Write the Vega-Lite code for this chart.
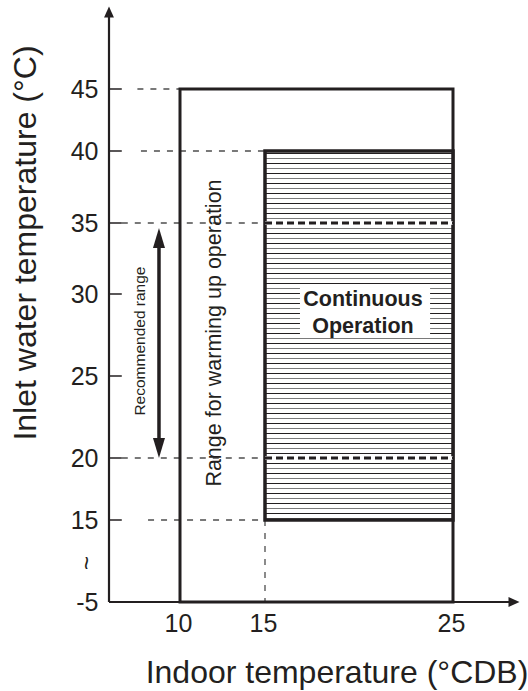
{
  "$schema": "https://vega.github.io/schema/vega-lite/v6.json",
  "width": 411,
  "height": 590,
  "autosize": {"type": "none"},
  "padding": {"left": 109, "top": 12, "right": 8, "bottom": 89},
  "background": "white",
  "config": {"view": {"stroke": null}, "font": "Liberation Sans"},
  "encoding": {
    "x": {
      "field": "x", "type": "quantitative",
      "scale": {"domain": [0, 10, 15, 25, 30], "range": [0, 71, 156, 344, 405], "zero": false, "nice": false},
      "axis": {
        "values": [10, 15, 25], "domain": false, "ticks": false, "tickSize": 0, "grid": false,
        "labelFontSize": 25, "labelPadding": 9, "labelOffset": -2, "labelColor": "#231f20", "labelFont": "Liberation Sans",
        "labelOverlap": false, "labelFlush": false,
        "title": "Indoor temperature (°CDB)", "titleFontSize": 32, "titleFontWeight": "normal",
        "titleColor": "#231f20", "titleFont": "Liberation Sans",
        "titleX": 227.5, "titleY": 80, "titleAlign": "center", "titleBaseline": "alphabetic", "titleAngle": 0
      }
    },
    "y": {
      "field": "y", "type": "quantitative",
      "scale": {"domain": [-5, 15, 20, 25, 30, 35, 40, 45, 60], "range": [590, 508, 446, 364, 282, 211, 139, 77, 0], "zero": false, "nice": false},
      "axis": {
        "values": [-5, 15, 20, 25, 30, 35, 40, 45], "domain": false, "ticks": false, "tickSize": 0, "grid": false,
        "labelExpr": "datum.value == -5 ? '-5' : datum.label",
        "labelFontSize": 25, "labelPadding": 11, "labelColor": "#231f20", "labelFont": "Liberation Sans",
        "labelOverlap": false, "labelFlush": false, "labelBaseline": "middle",
        "title": "Inlet water temperature (°C)", "titleFontSize": 32, "titleFontWeight": "normal",
        "titleColor": "#231f20", "titleFont": "Liberation Sans",
        "titleX": -74, "titleY": 230.5, "titleAlign": "center", "titleBaseline": "alphabetic", "titleAngle": 270
      }
    }
  },
  "layer": [
    {
      "data": {"values": [
        {"x": 4, "x2": 10, "y": 45, "y2": 45},
        {"x": 4.5, "x2": 15, "y": 40, "y2": 40},
        {"x": 1.8, "x2": 15, "y": 35, "y2": 35},
        {"x": 1.8, "x2": 15, "y": 20, "y2": 20},
        {"x": 5.5, "x2": 15, "y": 15, "y2": 15},
        {"x": 15, "x2": 15, "y": 15, "y2": -5}
      ]},
      "mark": {"type": "rule", "color": "#4d4d4d", "strokeWidth": 1.3, "strokeDash": [6, 7]},
      "encoding": {"x2": {"field": "x2"}, "y2": {"field": "y2"}}
    },
    {
      "data": {"values": [{"x": 10, "x2": 25, "y": -5, "y2": 45}]},
      "mark": {"type": "rect", "fill": "transparent", "stroke": "#231f20", "strokeWidth": 3},
      "encoding": {"x2": {"field": "x2"}, "y2": {"field": "y2"}}
    },
    {
      "data": {"values": [{"x": 15, "x2": 25, "y": 15, "y2": 40}]},
      "mark": {
        "type": "rect", "stroke": "#231f20", "strokeWidth": 3.5,
        "fill": {
          "gradient": "linear", "x1": 0, "y1": 0, "x2": 0, "y2": 1,
          "stops": [
            {"offset": 0.00542, "color": "#fff"}, {"offset": 0.00542, "color": "#231f20"}, {"offset": 0.00813, "color": "#231f20"}, {"offset": 0.00813, "color": "#fff"},
            {"offset": 0.01897, "color": "#fff"}, {"offset": 0.01897, "color": "#7a7a7a"}, {"offset": 0.02168, "color": "#7a7a7a"}, {"offset": 0.02168, "color": "#fff"},
            {"offset": 0.03252, "color": "#fff"}, {"offset": 0.03252, "color": "#231f20"}, {"offset": 0.03523, "color": "#231f20"}, {"offset": 0.03523, "color": "#fff"},
            {"offset": 0.04607, "color": "#fff"}, {"offset": 0.04607, "color": "#7a7a7a"}, {"offset": 0.04878, "color": "#7a7a7a"}, {"offset": 0.04878, "color": "#fff"},
            {"offset": 0.05962, "color": "#fff"}, {"offset": 0.05962, "color": "#231f20"}, {"offset": 0.06233, "color": "#231f20"}, {"offset": 0.06233, "color": "#fff"},
            {"offset": 0.07317, "color": "#fff"}, {"offset": 0.07317, "color": "#7a7a7a"}, {"offset": 0.07588, "color": "#7a7a7a"}, {"offset": 0.07588, "color": "#fff"},
            {"offset": 0.08672, "color": "#fff"}, {"offset": 0.08672, "color": "#231f20"}, {"offset": 0.08943, "color": "#231f20"}, {"offset": 0.08943, "color": "#fff"},
            {"offset": 0.10027, "color": "#fff"}, {"offset": 0.10027, "color": "#7a7a7a"}, {"offset": 0.10298, "color": "#7a7a7a"}, {"offset": 0.10298, "color": "#fff"},
            {"offset": 0.11382, "color": "#fff"}, {"offset": 0.11382, "color": "#231f20"}, {"offset": 0.11653, "color": "#231f20"}, {"offset": 0.11653, "color": "#fff"},
            {"offset": 0.12737, "color": "#fff"}, {"offset": 0.12737, "color": "#7a7a7a"}, {"offset": 0.13008, "color": "#7a7a7a"}, {"offset": 0.13008, "color": "#fff"},
            {"offset": 0.14092, "color": "#fff"}, {"offset": 0.14092, "color": "#231f20"}, {"offset": 0.14363, "color": "#231f20"}, {"offset": 0.14363, "color": "#fff"},
            {"offset": 0.15447, "color": "#fff"}, {"offset": 0.15447, "color": "#7a7a7a"}, {"offset": 0.15718, "color": "#7a7a7a"}, {"offset": 0.15718, "color": "#fff"},
            {"offset": 0.16802, "color": "#fff"}, {"offset": 0.16802, "color": "#231f20"}, {"offset": 0.17073, "color": "#231f20"}, {"offset": 0.17073, "color": "#fff"},
            {"offset": 0.18157, "color": "#fff"}, {"offset": 0.18157, "color": "#7a7a7a"}, {"offset": 0.18428, "color": "#7a7a7a"}, {"offset": 0.18428, "color": "#fff"},
            {"offset": 0.19512, "color": "#fff"}, {"offset": 0.19512, "color": "#231f20"}, {"offset": 0.19783, "color": "#231f20"}, {"offset": 0.19783, "color": "#fff"},
            {"offset": 0.20867, "color": "#fff"}, {"offset": 0.20867, "color": "#7a7a7a"}, {"offset": 0.21138, "color": "#7a7a7a"}, {"offset": 0.21138, "color": "#fff"},
            {"offset": 0.22222, "color": "#fff"}, {"offset": 0.22222, "color": "#231f20"}, {"offset": 0.22493, "color": "#231f20"}, {"offset": 0.22493, "color": "#fff"},
            {"offset": 0.23577, "color": "#fff"}, {"offset": 0.23577, "color": "#7a7a7a"}, {"offset": 0.23848, "color": "#7a7a7a"}, {"offset": 0.23848, "color": "#fff"},
            {"offset": 0.24932, "color": "#fff"}, {"offset": 0.24932, "color": "#231f20"}, {"offset": 0.25203, "color": "#231f20"}, {"offset": 0.25203, "color": "#fff"},
            {"offset": 0.26287, "color": "#fff"}, {"offset": 0.26287, "color": "#7a7a7a"}, {"offset": 0.26558, "color": "#7a7a7a"}, {"offset": 0.26558, "color": "#fff"},
            {"offset": 0.27642, "color": "#fff"}, {"offset": 0.27642, "color": "#231f20"}, {"offset": 0.27913, "color": "#231f20"}, {"offset": 0.27913, "color": "#fff"},
            {"offset": 0.28997, "color": "#fff"}, {"offset": 0.28997, "color": "#7a7a7a"}, {"offset": 0.29268, "color": "#7a7a7a"}, {"offset": 0.29268, "color": "#fff"},
            {"offset": 0.30352, "color": "#fff"}, {"offset": 0.30352, "color": "#231f20"}, {"offset": 0.30623, "color": "#231f20"}, {"offset": 0.30623, "color": "#fff"},
            {"offset": 0.31707, "color": "#fff"}, {"offset": 0.31707, "color": "#7a7a7a"}, {"offset": 0.31978, "color": "#7a7a7a"}, {"offset": 0.31978, "color": "#fff"},
            {"offset": 0.33062, "color": "#fff"}, {"offset": 0.33062, "color": "#231f20"}, {"offset": 0.33333, "color": "#231f20"}, {"offset": 0.33333, "color": "#fff"},
            {"offset": 0.34417, "color": "#fff"}, {"offset": 0.34417, "color": "#7a7a7a"}, {"offset": 0.34688, "color": "#7a7a7a"}, {"offset": 0.34688, "color": "#fff"},
            {"offset": 0.35772, "color": "#fff"}, {"offset": 0.35772, "color": "#231f20"}, {"offset": 0.36043, "color": "#231f20"}, {"offset": 0.36043, "color": "#fff"},
            {"offset": 0.37127, "color": "#fff"}, {"offset": 0.37127, "color": "#7a7a7a"}, {"offset": 0.37398, "color": "#7a7a7a"}, {"offset": 0.37398, "color": "#fff"},
            {"offset": 0.38482, "color": "#fff"}, {"offset": 0.38482, "color": "#231f20"}, {"offset": 0.38753, "color": "#231f20"}, {"offset": 0.38753, "color": "#fff"},
            {"offset": 0.39837, "color": "#fff"}, {"offset": 0.39837, "color": "#7a7a7a"}, {"offset": 0.40108, "color": "#7a7a7a"}, {"offset": 0.40108, "color": "#fff"},
            {"offset": 0.41192, "color": "#fff"}, {"offset": 0.41192, "color": "#231f20"}, {"offset": 0.41463, "color": "#231f20"}, {"offset": 0.41463, "color": "#fff"},
            {"offset": 0.42547, "color": "#fff"}, {"offset": 0.42547, "color": "#7a7a7a"}, {"offset": 0.42818, "color": "#7a7a7a"}, {"offset": 0.42818, "color": "#fff"},
            {"offset": 0.43902, "color": "#fff"}, {"offset": 0.43902, "color": "#231f20"}, {"offset": 0.44173, "color": "#231f20"}, {"offset": 0.44173, "color": "#fff"},
            {"offset": 0.45257, "color": "#fff"}, {"offset": 0.45257, "color": "#7a7a7a"}, {"offset": 0.45528, "color": "#7a7a7a"}, {"offset": 0.45528, "color": "#fff"},
            {"offset": 0.46612, "color": "#fff"}, {"offset": 0.46612, "color": "#231f20"}, {"offset": 0.46883, "color": "#231f20"}, {"offset": 0.46883, "color": "#fff"},
            {"offset": 0.47967, "color": "#fff"}, {"offset": 0.47967, "color": "#7a7a7a"}, {"offset": 0.48238, "color": "#7a7a7a"}, {"offset": 0.48238, "color": "#fff"},
            {"offset": 0.49322, "color": "#fff"}, {"offset": 0.49322, "color": "#231f20"}, {"offset": 0.49593, "color": "#231f20"}, {"offset": 0.49593, "color": "#fff"},
            {"offset": 0.50678, "color": "#fff"}, {"offset": 0.50678, "color": "#7a7a7a"}, {"offset": 0.50949, "color": "#7a7a7a"}, {"offset": 0.50949, "color": "#fff"},
            {"offset": 0.52033, "color": "#fff"}, {"offset": 0.52033, "color": "#231f20"}, {"offset": 0.52304, "color": "#231f20"}, {"offset": 0.52304, "color": "#fff"},
            {"offset": 0.53388, "color": "#fff"}, {"offset": 0.53388, "color": "#7a7a7a"}, {"offset": 0.53659, "color": "#7a7a7a"}, {"offset": 0.53659, "color": "#fff"},
            {"offset": 0.54743, "color": "#fff"}, {"offset": 0.54743, "color": "#231f20"}, {"offset": 0.55014, "color": "#231f20"}, {"offset": 0.55014, "color": "#fff"},
            {"offset": 0.56098, "color": "#fff"}, {"offset": 0.56098, "color": "#7a7a7a"}, {"offset": 0.56369, "color": "#7a7a7a"}, {"offset": 0.56369, "color": "#fff"},
            {"offset": 0.57453, "color": "#fff"}, {"offset": 0.57453, "color": "#231f20"}, {"offset": 0.57724, "color": "#231f20"}, {"offset": 0.57724, "color": "#fff"},
            {"offset": 0.58808, "color": "#fff"}, {"offset": 0.58808, "color": "#7a7a7a"}, {"offset": 0.59079, "color": "#7a7a7a"}, {"offset": 0.59079, "color": "#fff"},
            {"offset": 0.60163, "color": "#fff"}, {"offset": 0.60163, "color": "#231f20"}, {"offset": 0.60434, "color": "#231f20"}, {"offset": 0.60434, "color": "#fff"},
            {"offset": 0.61518, "color": "#fff"}, {"offset": 0.61518, "color": "#7a7a7a"}, {"offset": 0.61789, "color": "#7a7a7a"}, {"offset": 0.61789, "color": "#fff"},
            {"offset": 0.62873, "color": "#fff"}, {"offset": 0.62873, "color": "#231f20"}, {"offset": 0.63144, "color": "#231f20"}, {"offset": 0.63144, "color": "#fff"},
            {"offset": 0.64228, "color": "#fff"}, {"offset": 0.64228, "color": "#7a7a7a"}, {"offset": 0.64499, "color": "#7a7a7a"}, {"offset": 0.64499, "color": "#fff"},
            {"offset": 0.65583, "color": "#fff"}, {"offset": 0.65583, "color": "#231f20"}, {"offset": 0.65854, "color": "#231f20"}, {"offset": 0.65854, "color": "#fff"},
            {"offset": 0.66938, "color": "#fff"}, {"offset": 0.66938, "color": "#7a7a7a"}, {"offset": 0.67209, "color": "#7a7a7a"}, {"offset": 0.67209, "color": "#fff"},
            {"offset": 0.68293, "color": "#fff"}, {"offset": 0.68293, "color": "#231f20"}, {"offset": 0.68564, "color": "#231f20"}, {"offset": 0.68564, "color": "#fff"},
            {"offset": 0.69648, "color": "#fff"}, {"offset": 0.69648, "color": "#7a7a7a"}, {"offset": 0.69919, "color": "#7a7a7a"}, {"offset": 0.69919, "color": "#fff"},
            {"offset": 0.71003, "color": "#fff"}, {"offset": 0.71003, "color": "#231f20"}, {"offset": 0.71274, "color": "#231f20"}, {"offset": 0.71274, "color": "#fff"},
            {"offset": 0.72358, "color": "#fff"}, {"offset": 0.72358, "color": "#7a7a7a"}, {"offset": 0.72629, "color": "#7a7a7a"}, {"offset": 0.72629, "color": "#fff"},
            {"offset": 0.73713, "color": "#fff"}, {"offset": 0.73713, "color": "#231f20"}, {"offset": 0.73984, "color": "#231f20"}, {"offset": 0.73984, "color": "#fff"},
            {"offset": 0.75068, "color": "#fff"}, {"offset": 0.75068, "color": "#7a7a7a"}, {"offset": 0.75339, "color": "#7a7a7a"}, {"offset": 0.75339, "color": "#fff"},
            {"offset": 0.76423, "color": "#fff"}, {"offset": 0.76423, "color": "#231f20"}, {"offset": 0.76694, "color": "#231f20"}, {"offset": 0.76694, "color": "#fff"},
            {"offset": 0.77778, "color": "#fff"}, {"offset": 0.77778, "color": "#7a7a7a"}, {"offset": 0.78049, "color": "#7a7a7a"}, {"offset": 0.78049, "color": "#fff"},
            {"offset": 0.79133, "color": "#fff"}, {"offset": 0.79133, "color": "#231f20"}, {"offset": 0.79404, "color": "#231f20"}, {"offset": 0.79404, "color": "#fff"},
            {"offset": 0.80488, "color": "#fff"}, {"offset": 0.80488, "color": "#7a7a7a"}, {"offset": 0.80759, "color": "#7a7a7a"}, {"offset": 0.80759, "color": "#fff"},
            {"offset": 0.81843, "color": "#fff"}, {"offset": 0.81843, "color": "#231f20"}, {"offset": 0.82114, "color": "#231f20"}, {"offset": 0.82114, "color": "#fff"},
            {"offset": 0.83198, "color": "#fff"}, {"offset": 0.83198, "color": "#7a7a7a"}, {"offset": 0.83469, "color": "#7a7a7a"}, {"offset": 0.83469, "color": "#fff"},
            {"offset": 0.84553, "color": "#fff"}, {"offset": 0.84553, "color": "#231f20"}, {"offset": 0.84824, "color": "#231f20"}, {"offset": 0.84824, "color": "#fff"},
            {"offset": 0.85908, "color": "#fff"}, {"offset": 0.85908, "color": "#7a7a7a"}, {"offset": 0.86179, "color": "#7a7a7a"}, {"offset": 0.86179, "color": "#fff"},
            {"offset": 0.87263, "color": "#fff"}, {"offset": 0.87263, "color": "#231f20"}, {"offset": 0.87534, "color": "#231f20"}, {"offset": 0.87534, "color": "#fff"},
            {"offset": 0.88618, "color": "#fff"}, {"offset": 0.88618, "color": "#7a7a7a"}, {"offset": 0.88889, "color": "#7a7a7a"}, {"offset": 0.88889, "color": "#fff"},
            {"offset": 0.89973, "color": "#fff"}, {"offset": 0.89973, "color": "#231f20"}, {"offset": 0.90244, "color": "#231f20"}, {"offset": 0.90244, "color": "#fff"},
            {"offset": 0.91328, "color": "#fff"}, {"offset": 0.91328, "color": "#7a7a7a"}, {"offset": 0.91599, "color": "#7a7a7a"}, {"offset": 0.91599, "color": "#fff"},
            {"offset": 0.92683, "color": "#fff"}, {"offset": 0.92683, "color": "#231f20"}, {"offset": 0.92954, "color": "#231f20"}, {"offset": 0.92954, "color": "#fff"},
            {"offset": 0.94038, "color": "#fff"}, {"offset": 0.94038, "color": "#7a7a7a"}, {"offset": 0.94309, "color": "#7a7a7a"}, {"offset": 0.94309, "color": "#fff"},
            {"offset": 0.95393, "color": "#fff"}, {"offset": 0.95393, "color": "#231f20"}, {"offset": 0.95664, "color": "#231f20"}, {"offset": 0.95664, "color": "#fff"},
            {"offset": 0.96748, "color": "#fff"}, {"offset": 0.96748, "color": "#7a7a7a"}, {"offset": 0.97019, "color": "#7a7a7a"}, {"offset": 0.97019, "color": "#fff"},
            {"offset": 0.98103, "color": "#fff"}, {"offset": 0.98103, "color": "#231f20"}, {"offset": 0.98374, "color": "#231f20"}, {"offset": 0.98374, "color": "#fff"},
            {"offset": 0.99458, "color": "#fff"}, {"offset": 0.99458, "color": "#7a7a7a"}, {"offset": 0.99729, "color": "#7a7a7a"}, {"offset": 0.99729, "color": "#fff"}
          ]
        }
      },
      "encoding": {"x2": {"field": "x2"}, "y2": {"field": "y2"}}
    },
    {
      "data": {"values": [{"x": 15, "x2": 25, "y": 35}, {"x": 15, "x2": 25, "y": 20}]},
      "mark": {"type": "rule", "color": "white", "strokeWidth": 3.5},
      "encoding": {"x2": {"field": "x2"}}
    },
    {
      "data": {"values": [{"x": 15, "x2": 25, "y": 35}, {"x": 15, "x2": 25, "y": 20}]},
      "mark": {"type": "rule", "color": "#231f20", "strokeWidth": 3, "strokeDash": [7, 4]},
      "encoding": {"x2": {"field": "x2"}}
    },
    {
      "data": {"values": [{"x": 16.86, "x2": 23.78, "y": 27.5, "y2": 30.42}]},
      "mark": {"type": "rect", "fill": "white", "stroke": null},
      "encoding": {"x2": {"field": "x2"}, "y2": {"field": "y2"}}
    },
    {
      "data": {"values": [{"x": 20.21, "y": 29.63, "t": "Continuous"}, {"x": 20.21, "y": 27.99, "t": "Operation"}]},
      "mark": {"type": "text", "fontSize": 21.5, "fontWeight": "bold", "color": "#231f20", "align": "center", "baseline": "middle", "font": "Liberation Sans"},
      "encoding": {"text": {"field": "t"}}
    },
    {
      "data": {"values": [{"x": 4.37, "y": 27.13, "t": "Recommended range"}]},
      "mark": {"type": "text", "fontSize": 15.5, "angle": 270, "color": "#231f20", "align": "center", "baseline": "middle", "font": "Liberation Sans"},
      "encoding": {"text": {"field": "t"}}
    },
    {
      "data": {"values": [{"x": 12.06, "y": 27.62, "t": "Range for warming up operation"}]},
      "mark": {"type": "text", "fontSize": 21.5, "angle": 270, "color": "#231f20", "align": "center", "baseline": "middle", "font": "Liberation Sans"},
      "encoding": {"text": {"field": "t"}}
    },
    {
      "data": {"values": [{"x": -3.38, "y": 4.5, "t": "~"}]},
      "mark": {"type": "text", "fontSize": 24, "angle": 90, "color": "#231f20", "align": "center", "baseline": "middle", "font": "Liberation Sans"},
      "encoding": {"text": {"field": "t"}}
    },
    {
      "data": {"values": [
        {"x": 0, "x2": 1.8, "y": 15}, {"x": 0, "x2": 1.8, "y": 20}, {"x": 0, "x2": 1.8, "y": 25},
        {"x": 0, "x2": 1.8, "y": 30}, {"x": 0, "x2": 1.8, "y": 35}, {"x": 0, "x2": 1.8, "y": 40},
        {"x": 0, "x2": 1.8, "y": 45}
      ]},
      "mark": {"type": "rule", "color": "#231f20", "strokeWidth": 1.5},
      "encoding": {"x2": {"field": "x2"}}
    },
    {
      "data": {"values": [{"x": 0, "x2": 0, "y": -5, "y2": 60}, {"x": 0, "x2": 30, "y": -5, "y2": -5}]},
      "mark": {"type": "rule", "color": "#231f20", "strokeWidth": 2.2},
      "encoding": {"x2": {"field": "x2"}, "y2": {"field": "y2"}}
    },
    {
      "data": {"values": [{"x": 0, "y": 60}]},
      "mark": {"type": "point", "shape": "M0,-1 L-0.9,1 L0.9,1 Z", "size": 121, "filled": true, "color": "#231f20", "opacity": 1, "strokeWidth": 0}
    },
    {
      "data": {"values": [{"x": 30, "y": -5}]},
      "mark": {"type": "point", "shape": "M1,0 L-1,-0.9 L-1,0.9 Z", "size": 121, "filled": true, "color": "#231f20", "opacity": 1, "strokeWidth": 0}
    },
    {
      "data": {"values": [{"x": 7.04, "y": 21, "y2": 34}]},
      "mark": {"type": "rule", "color": "#231f20", "strokeWidth": 3.5},
      "encoding": {"y2": {"field": "y2"}}
    },
    {
      "data": {"values": [{"x": 7.04, "y": 35}]},
      "mark": {"type": "point", "shape": "M0,0.5 L-0.6,2.5 L0.6,2.5 Z", "size": 400, "filled": true, "color": "#231f20", "opacity": 1, "strokeWidth": 0}
    },
    {
      "data": {"values": [{"x": 7.04, "y": 20}]},
      "mark": {"type": "point", "shape": "M0,0 L-0.6,-2 L0.6,-2 Z", "size": 400, "filled": true, "color": "#231f20", "opacity": 1, "strokeWidth": 0}
    }
  ]
}
